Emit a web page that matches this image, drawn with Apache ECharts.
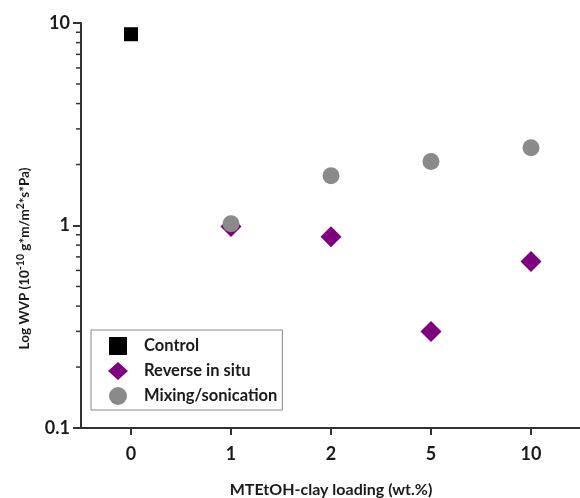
<!DOCTYPE html>
<html>
<head>
<meta charset="utf-8">
<script src="https://cdn.jsdelivr.net/npm/echarts@6/dist/echarts.min.js"></script>
<style>
    html, body { margin: 0; padding: 0; background: #fff; }
    #chart { width: 580px; height: 498px; }
</style>
</head>
<body>
<div id="chart"></div>
<script>
    // clay loading categories (wt.%)
    var loadings = ['0', '1', '2', '5', '10'];
    // WVP values, 10^-10 g*m/m^2*s*Pa
    var controlVals = [8.8, null, null, null, null];
    var reverseVals = [null, 0.99, 0.88, 0.30, 0.665];
    var mixingVals = [null, 1.02, 1.76, 2.07, 2.42];
    // minor log ticks
    var minorVals = [0.2, 0.3, 0.4, 0.5, 0.6, 0.7, 0.8, 0.9, 2, 3, 4, 5, 6, 7, 8, 9];

    var fontFam = 'Lato, "Open Sans", sans-serif';
    var axisColor = '#333';
    var textColor = '#1a1a1a';

    var chart = echarts.init(document.getElementById('chart'));

    function minorTick(params, api) {
        var p = api.coord([api.value(0), api.value(1)]);
        var x0 = params.coordSys.x;
        return {
            type: 'line',
            shape: { x1: x0 - 5, y1: p[1], x2: x0, y2: p[1] },
            style: { stroke: axisColor, lineWidth: 1.5 }
        };
    }

    chart.setOption({
        animation: false,
        grid: { left: 81, top: 23, width: 500, height: 405, outerBoundsMode: 'none', containLabel: false },
        legend: {
            left: 91,
            top: 330,
            orient: 'vertical',
            padding: [7, 5, 5, 17],
            itemGap: 7,
            itemWidth: 20,
            itemHeight: 18,
            borderColor: '#888',
            borderWidth: 1,
            textStyle: { fontFamily: fontFam, fontWeight: 'bold', fontSize: 16.5, color: textColor, padding: [0, 0, 0, 11] },
            data: [
                { name: 'Control', icon: 'path://M0 0H10V10H0Z' },
                { name: 'Reverse in situ', icon: 'diamond' },
                { name: 'Mixing/sonication', icon: 'circle' }
            ]
        },
        xAxis: {
            type: 'category',
            data: loadings,
            boundaryGap: true,
            name: 'MTEtOH-clay loading (wt.%)',
            nameLocation: 'middle',
            nameGap: 54,
            nameTextStyle: { fontFamily: fontFam, fontWeight: 'bold', fontSize: 16, color: textColor },
            axisLine: { show: true, lineStyle: { color: axisColor, width: 2 } },
            axisTick: { show: true, alignWithLabel: true, length: 7, lineStyle: { color: axisColor, width: 2 } },
            axisLabel: { show: true, margin: 17, fontFamily: fontFam, fontWeight: 'bold', fontSize: 18, color: textColor },
            splitLine: { show: false }
        },
        yAxis: {
            type: 'log',
            logBase: 10,
            min: 0.1,
            max: 10,
            name: '{n|Log WVP (10}{s|-10}{n| g*m/m}{s|2}{n|*s*Pa)}',
            nameLocation: 'middle',
            nameRotate: 90,
            nameGap: 46,
            nameTextStyle: {
                padding: [0, 66, 0, 0],
                rich: {
                    n: { fontFamily: fontFam, fontWeight: 'bold', fontSize: 13.5, color: textColor },
                    s: { fontFamily: fontFam, fontWeight: 'bold', fontSize: 10.5, color: textColor, padding: [0, 0, 9, 0] }
                }
            },
            axisLine: { show: true, lineStyle: { color: axisColor, width: 2 } },
            axisTick: { show: true, length: 8, lineStyle: { color: axisColor, width: 2 } },
            axisLabel: { show: true, margin: 11, fontFamily: fontFam, fontWeight: 'bold', fontSize: 18, color: textColor },
            splitLine: { show: false }
        },
        series: [
            {
                name: 'Control',
                type: 'scatter',
                symbol: 'rect',
                symbolSize: 14,
                itemStyle: { color: '#000', opacity: 1 },
                data: controlVals
            },
            {
                name: 'Reverse in situ',
                type: 'scatter',
                symbol: 'diamond',
                symbolSize: 21,
                itemStyle: { color: '#7e007e', opacity: 1 },
                data: reverseVals
            },
            {
                name: 'Mixing/sonication',
                type: 'scatter',
                symbol: 'circle',
                symbolSize: 17,
                itemStyle: { color: '#8a8a8a', opacity: 1 },
                data: mixingVals
            },
            {
                name: 'minor',
                type: 'custom',
                silent: true,
                clip: false,
                renderItem: minorTick,
                data: minorVals.map(function (v) { return [0, v]; })
            }
        ]
    });
</script>
</body>
</html>
